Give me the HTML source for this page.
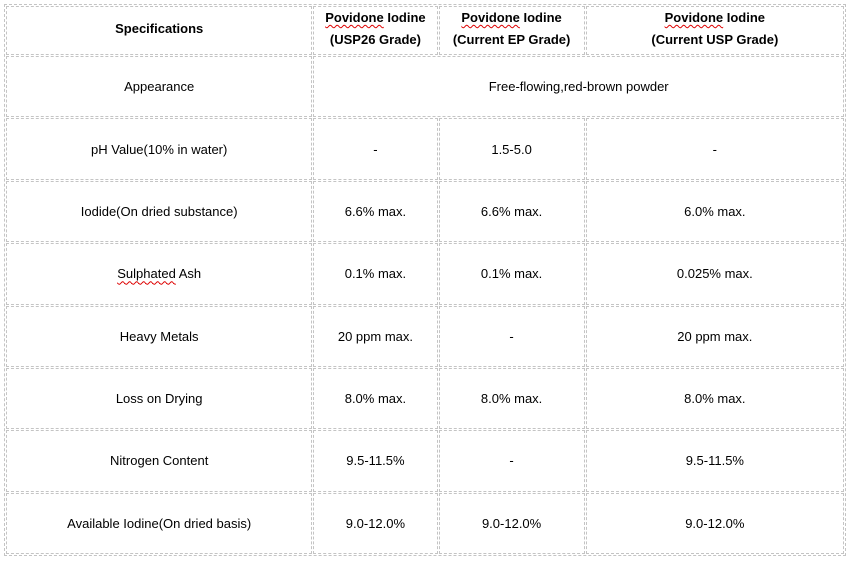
<!DOCTYPE html>
<html><head><style>
body{margin:0;background:#fff;width:851px;height:561px;overflow:hidden}
table{position:absolute;left:4px;top:4px;width:842px;height:552px;border-collapse:separate;border-spacing:1px;border:1px dashed #c4c4c4;table-layout:fixed;font-family:"Liberation Sans",Arial,sans-serif;font-size:13px;color:#000}
td{border:1px dashed #c4c4c4;text-align:center;vertical-align:middle;padding:0}
th{border:1px dashed #c4c4c4;font-weight:bold;font-size:13px;line-height:22px;padding:0 0 3px 0}
.u{text-decoration:underline wavy #d00;text-decoration-thickness:1px;text-underline-offset:2px}
</style></head><body>
<table>
<colgroup><col style="width:306px"><col style="width:124px"><col style="width:146px"><col style="width:258px"></colgroup>
<tr style="height:49px"><th>Specifications</th><th><span class="u">Povidone</span> Iodine<br>(USP26 Grade)</th><th><span class="u">Povidone</span> Iodine<br>(Current EP Grade)</th><th><span class="u">Povidone</span> Iodine<br>(Current USP Grade)</th></tr>
<tr><td>Appearance</td><td colspan="3">Free-flowing,red-brown powder</td></tr>
<tr><td>pH Value(10% in water)</td><td>-</td><td>1.5-5.0</td><td>-</td></tr>
<tr><td>Iodide(On dried substance)</td><td>6.6% max.</td><td>6.6% max.</td><td>6.0% max.</td></tr>
<tr><td><span class="u">Sulphated</span> Ash</td><td>0.1% max.</td><td>0.1% max.</td><td>0.025% max.</td></tr>
<tr><td>Heavy Metals</td><td>20 ppm max.</td><td>-</td><td>20 ppm max.</td></tr>
<tr><td>Loss on Drying</td><td>8.0% max.</td><td>8.0% max.</td><td>8.0% max.</td></tr>
<tr><td>Nitrogen Content</td><td>9.5-11.5%</td><td>-</td><td>9.5-11.5%</td></tr>
<tr><td>Available Iodine(On dried basis)</td><td>9.0-12.0%</td><td>9.0-12.0%</td><td>9.0-12.0%</td></tr>
</table>
</body></html>
